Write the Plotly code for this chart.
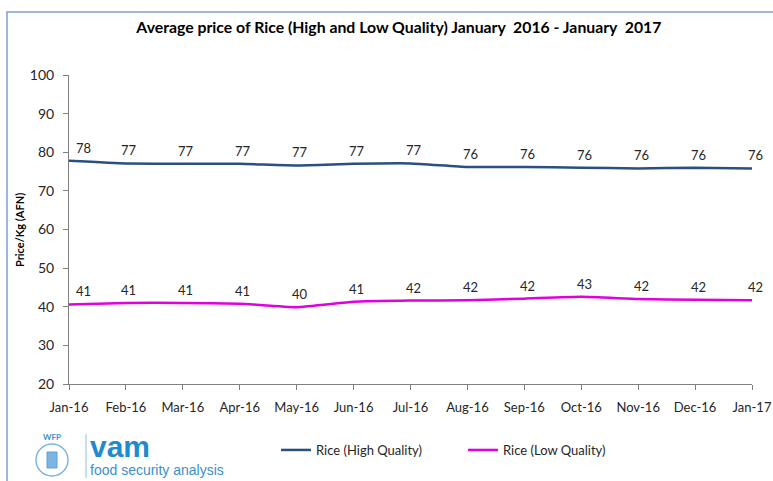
import plotly.graph_objects as go

months = ["Jan-16", "Feb-16", "Mar-16", "Apr-16", "May-16", "Jun-16", "Jul-16",
          "Aug-16", "Sep-16", "Oct-16", "Nov-16", "Dec-16", "Jan-17"]
high_quality = [77.8, 77.1, 77.0, 77.0, 76.6, 77.0, 77.1, 76.2, 76.2, 76.0, 75.8, 76.0, 75.8]
low_quality = [40.6, 41.0, 41.0, 40.8, 39.9, 41.3, 41.6, 41.7, 42.1, 42.6, 42.0, 41.8, 41.7]
y_ticks = [20, 30, 40, 50, 60, 70, 80, 90, 100]

FONT = "Lato, Carlito, Calibri, sans-serif"
HIGH_C = "#2B4F81"
LOW_C = "#E000E0"

fig = go.Figure()
fig.add_trace(go.Scatter(
    x=months, y=high_quality, mode="lines", name="Rice (High Quality)",
    line=dict(color=HIGH_C, width=2.5, shape="spline", smoothing=0.4),
))
fig.add_trace(go.Scatter(
    x=months, y=low_quality, mode="lines", name="Rice (Low Quality)",
    line=dict(color=LOW_C, width=2.5, shape="spline", smoothing=0.4),
))

def px(x):
    return (x - 69) / 683

def py(y):
    return (384 - y) / 309

annotations = []
for series in (high_quality, low_quality):
    for i, (m, v) in enumerate(zip(months, series)):
        annotations.append(dict(
            x=m, y=v, xref="x", yref="y", text=f"{round(v)}", showarrow=False,
            xanchor="center", yanchor="middle", yshift=13, xshift=14 if i == 0 else 3,
            font=dict(size=13, color="#262626"),
        ))

annotations += [
    dict(text="<b>Price/Kg (AFN)</b>", textangle=-90, xref="paper", yref="paper",
         x=px(20), y=py(230), xanchor="center", yanchor="middle", showarrow=False,
         font=dict(size=11, color="#000000")),
    dict(text="<b>WFP</b>", xref="paper", yref="paper", x=px(52), y=py(437),
         xanchor="center", yanchor="middle", showarrow=False,
         font=dict(size=8, color="#3F8FD2")),
    dict(text="<b><span style='font-size:30px;color:#1F8ACF'>vam</span></b><br>"
              "<span style='font-size:14px;color:#3B8FD0'>food security analysis</span>",
         xref="paper", yref="paper", x=px(88), y=py(480),
         xanchor="left", yanchor="bottom", align="left", showarrow=False,
         font=dict(size=14, color="#3B8FD0", family="Arial, sans-serif")),
]

fig.update_layout(
    width=773, height=481,
    margin=dict(l=69, r=21, t=75, b=97, autoexpand=False),
    paper_bgcolor="white", plot_bgcolor="white",
    font=dict(family=FONT, size=13, color="#262626"),
    title=dict(text="<b>Average price of Rice (High and Low Quality) January  2016 - January  2017</b>",
               x=0.516, xanchor="center", y=1 - 27 / 481, yanchor="middle",
               font=dict(size=15.8, color="#000000", family=FONT)),
    xaxis=dict(type="category", range=[0, len(months) - 1], showgrid=False,
               showline=True, linecolor="#808080", linewidth=1,
               ticks="outside", ticklen=5, tickcolor="#808080",
               tickfont=dict(size=13, color="#262626"), zeroline=False,
               ticklabelstandoff=6),
    yaxis=dict(range=[20, 100], tickvals=y_ticks, showgrid=False,
               showline=True, linecolor="#808080", linewidth=1,
               ticks="outside", ticklen=5, tickcolor="#808080",
               tickfont=dict(size=14, color="#262626"), zeroline=False,
               ticklabelstandoff=6),
    showlegend=True,
    legend=dict(orientation="h", x=px(276), xanchor="left", y=py(450), yanchor="middle",
                entrywidth=142, entrywidthmode="pixels",
                font=dict(size=13, color="#262626"), bgcolor="rgba(0,0,0,0)"),
    shapes=[
        dict(type="rect", xref="paper", yref="paper", x0=px(7), x1=px(800), y0=py(520), y1=py(12),
             line=dict(color="#7F9FCB", width=1.5), fillcolor="rgba(0,0,0,0)", layer="below"),
        dict(type="line", xref="paper", yref="paper", x0=px(86), x1=px(86), y0=py(434), y1=py(478),
             line=dict(color="#8FC0E6", width=1)),
        dict(type="circle", xref="paper", yref="paper", x0=px(36), x1=px(68), y0=py(476), y1=py(444),
             line=dict(color="#7DB5E2", width=1.5)),
        dict(type="rect", xref="paper", yref="paper", x0=px(47), x1=px(57), y0=py(468), y1=py(452),
             line=dict(color="#5DA3DA", width=1), fillcolor="#7DB5E2"),
    ],
    annotations=annotations,
)

fig.write_html("out.html", config={"displayModeBar": False},
               post_script="document.body.style.margin='0';")
